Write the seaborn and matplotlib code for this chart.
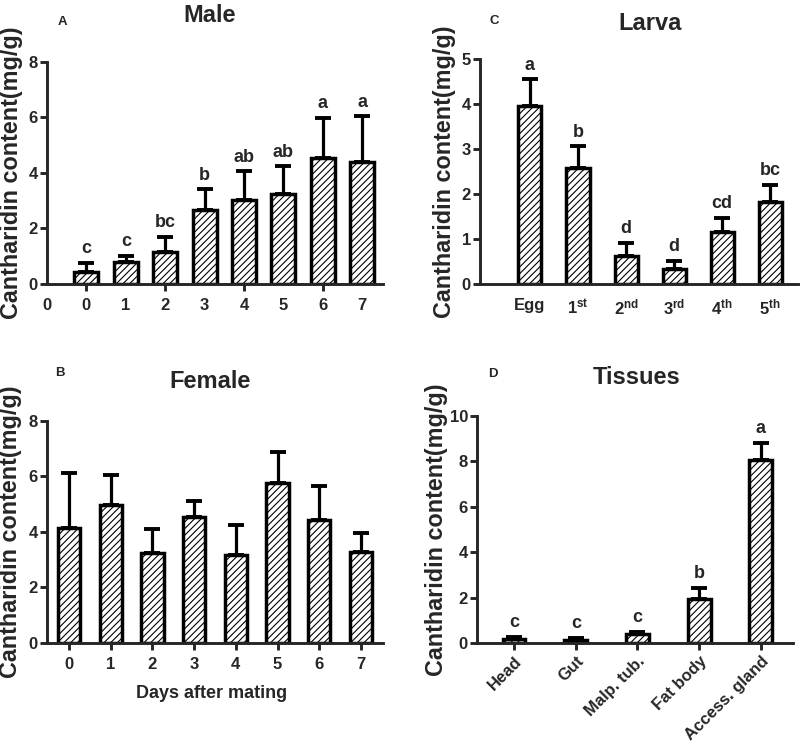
import numpy as np
import pandas as pd
import seaborn as sns
import matplotlib.pyplot as plt

sns.set_style('ticks')
plt.rcParams['font.family'] = ['Liberation Sans', 'DejaVu Sans']
plt.rcParams['font.weight'] = 'bold'
plt.rcParams['mathtext.fontset'] = 'custom'
plt.rcParams['mathtext.rm'] = 'Liberation Sans:bold'
plt.rcParams['mathtext.bf'] = 'Liberation Sans:bold'
plt.rcParams['hatch.linewidth'] = 0.8

# panel A - male, days after mating
days = ['0', '1', '2', '3', '4', '5', '6', '7']
male_mean = [0.43, 0.79, 1.15, 2.66, 3.01, 3.24, 4.53, 4.41]
male_err = [0.33, 0.23, 0.55, 0.75, 1.05, 1.01, 1.46, 1.64]
male_grp = ['c', 'c', 'bc', 'b', 'ab', 'ab', 'a', 'a']

# panel B - female
female_mean = [4.16, 4.98, 3.26, 4.54, 3.18, 5.78, 4.42, 3.29]
female_err = [1.98, 1.06, 0.84, 0.56, 1.06, 1.09, 1.23, 0.67]

# panel C - larva stages
stages = ['Egg', '1st', '2nd', '3rd', '4th', '5th']
stage_labels = ['Egg', r'$\mathbf{1^{st}}$', r'$\mathbf{2^{nd}}$', r'$\mathbf{3^{rd}}$',
                r'$\mathbf{4^{th}}$', r'$\mathbf{5^{th}}$']
larva_mean = [3.95, 2.58, 0.62, 0.34, 1.16, 1.82]
larva_err = [0.60, 0.48, 0.30, 0.18, 0.31, 0.39]
larva_grp = ['a', 'b', 'd', 'd', 'cd', 'bc']

# panel D - tissues
tissues = ['Head', 'Gut', 'Malp. tub.', 'Fat body', 'Access. gland']
tissue_mean = [0.18, 0.15, 0.40, 1.92, 8.05]
tissue_err = [0.10, 0.07, 0.10, 0.50, 0.78]
tissue_grp = ['c', 'c', 'c', 'b', 'a']

ylab = 'Cantharidin content(mg/g)'

fig = plt.figure(figsize=(8, 7.46), dpi=100)
axA = fig.add_axes([0.05875, 0.6193, 0.42, 0.2976])
axC = fig.add_axes([0.6, 0.6193, 0.3975, 0.3016])
axB = fig.add_axes([0.05875, 0.1381, 0.42, 0.2976])
axD = fig.add_axes([0.59625, 0.1381, 0.395, 0.3043])


def draw(ax, cats, mean, err, width, ymax, ystep, grp=None):
    df = pd.DataFrame({'cat': cats, 'val': mean})
    sns.barplot(data=df, x='cat', y='val', order=cats, ax=ax, color='white',
                edgecolor='black', linewidth=2.5, width=width, errorbar=None,
                saturation=1)
    for p in ax.patches:
        p.set_hatch('/////')
    n = len(cats)
    ax.errorbar(np.arange(n), mean, yerr=[np.zeros(n), err], fmt='none',
                ecolor='black', elinewidth=2.3, capsize=5.5, capthick=2.8, zorder=1)
    if grp:
        for i, g in enumerate(grp):
            ax.annotate(g, (i, mean[i] + err[i]), xytext=(0, 4), textcoords='offset points',
                        ha='center', va='bottom', fontsize=13, fontweight='bold')
    ax.set_ylim(0, ymax)
    ax.set_yticks(np.arange(0, ymax + 0.01, ystep))
    ax.set_xlabel('')
    ax.set_ylabel('')
    sns.despine(ax=ax)
    for s in ['left', 'bottom']:
        ax.spines[s].set_linewidth(2.1)
    ax.tick_params(axis='both', width=2.1, length=5, labelsize=12)
    ax.tick_params(axis='y', pad=1.5)
    for lab in ax.get_xticklabels() + ax.get_yticklabels():
        lab.set_fontweight('bold')


draw(axA, days, male_mean, male_err, 0.61, 8, 2, male_grp)
axA.set_xticks(range(-1, 8))
axA.set_xticklabels(['0'] + days, fontweight='bold')
axA.set_xlim(-1, 7.53)
axA.tick_params(axis='x', pad=5)
for i, t in enumerate(axA.xaxis.get_major_ticks()):
    if i % 2 == 0:
        t.tick1line.set_visible(False)

draw(axB, days, female_mean, female_err, 0.54, 8, 2)
axB.set_xlim(-0.53, 7.53)
axB.tick_params(axis='x', pad=5)

draw(axC, stages, larva_mean, larva_err, 0.48, 5, 1, larva_grp)
axC.set_xticks(range(len(stages)))
axC.set_xticklabels(stage_labels, fontweight='bold')
axC.set_xlim(-1.04, 5.58)
axC.tick_params(axis='x', width=0, pad=5)

draw(axD, tissues, tissue_mean, tissue_err, 0.37, 10, 2, tissue_grp)
axD.set_xlim(-0.6, 4.52)
axD.set_xticks(range(len(tissues)))
axD.set_xticklabels(tissues, rotation=45, ha='right', rotation_mode='anchor',
                    fontweight='bold', fontsize=12)
axD.tick_params(axis='x', pad=2.5)

W, H = 800, 746


def ftext(x, y, s, **kw):
    fig.text(x / W, 1 - y / H, s, ha='center', va='center', fontweight='bold', **kw)


ftext(210, 15, 'Male', fontsize=17)
ftext(650, 23, 'Larva', fontsize=17)
ftext(210, 382, 'Female', fontsize=17)
ftext(637, 377, 'Tissues', fontsize=17)
ftext(62, 22, 'A', fontsize=9.5)
ftext(494, 21, 'C', fontsize=9.5)
ftext(60, 373, 'B', fontsize=9.5)
ftext(493, 374, 'D', fontsize=9.5)
ftext(12, 173, ylab, fontsize=16.8, rotation=90)
ftext(445, 172, ylab, fontsize=16.8, rotation=90)
ftext(11, 532, ylab, fontsize=16.8, rotation=90)
ftext(436, 530, ylab, fontsize=16.8, rotation=90)
ftext(212, 693, 'Days after mating', fontsize=13)

fig.savefig('out.png', dpi=100)
